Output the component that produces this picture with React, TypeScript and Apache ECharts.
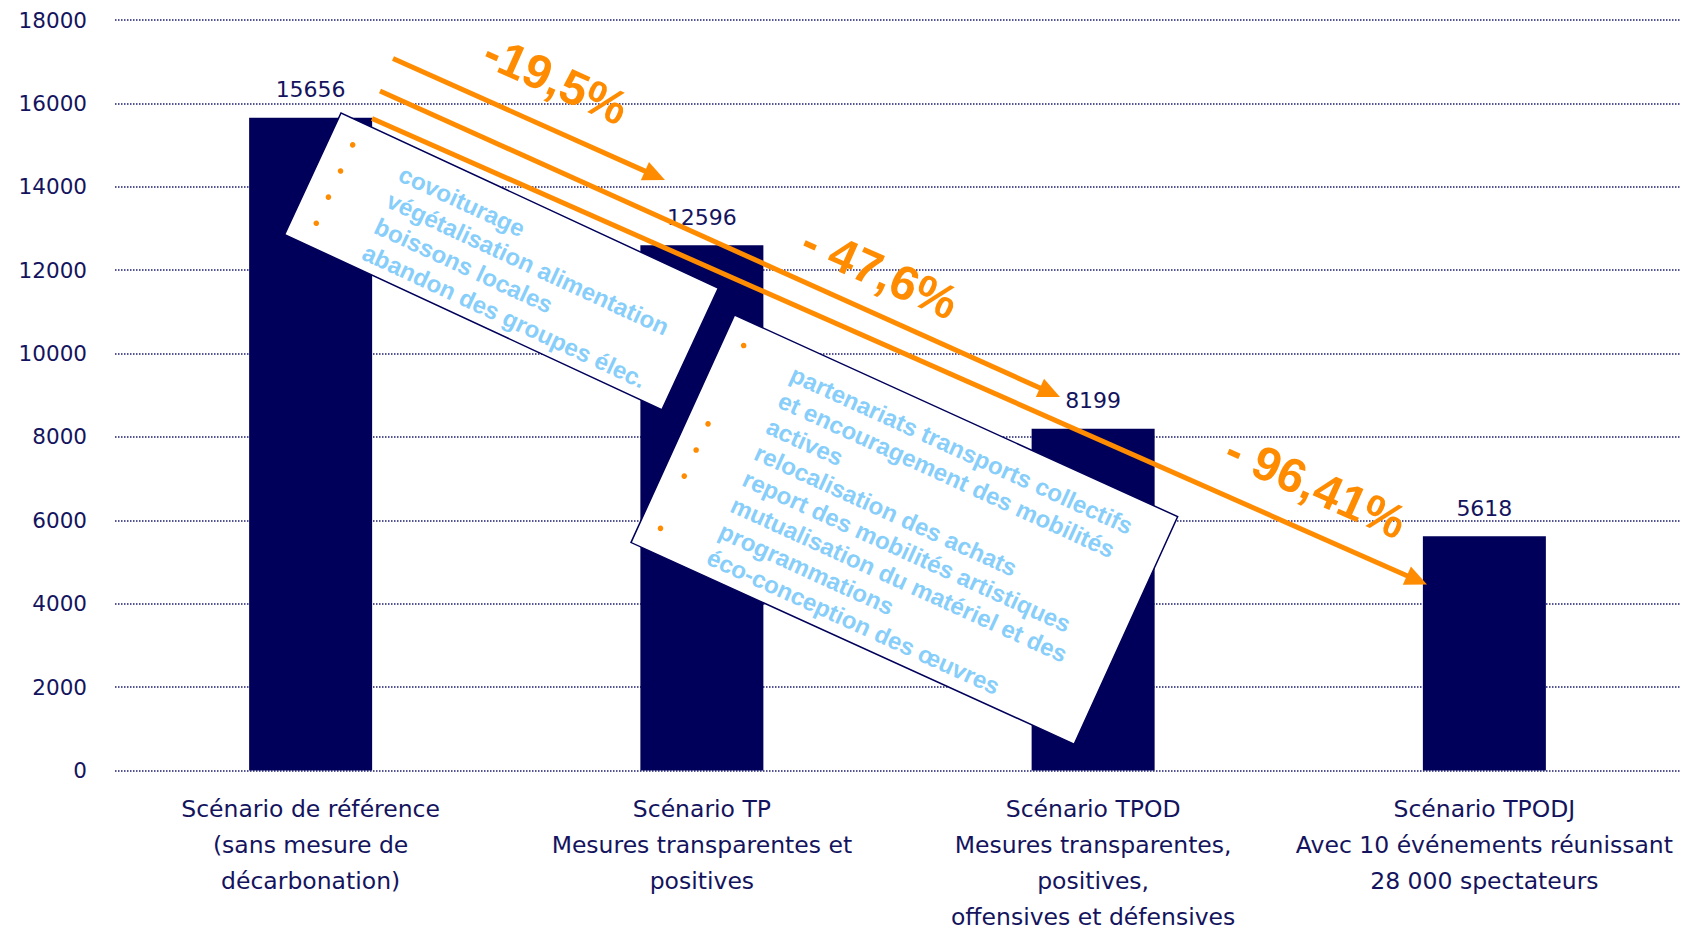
import React, { useEffect, useRef } from "react";
import * as echarts from "echarts";

const categories = [
  "Scénario de référence\n(sans mesure de\ndécarbonation)",
  "Scénario TP\nMesures transparentes et\npositives",
  "Scénario TPOD\nMesures transparentes,\npositives,\noffensives et défensives",
  "Scénario TPODJ\nAvec 10 événements réunissant\n28 000 spectateurs",
];
const values = [15656, 12596, 8199, 5618];
const yMin = 0;
const yMax = 18000;
const yInterval = 2000;
const reductionLabels = ["-19,5%", "- 47,6%", "- 96,41%"];
const box1Lines = [
  "covoiturage",
  "végétalisation alimentation",
  "boissons locales",
  "abandon des groupes élec.",
];
const box1Bullets = [0, 1, 2, 3];
const box2Lines = [
  "partenariats transports collectifs",
  "et encouragement des mobilités",
  "actives",
  "relocalisation des achats",
  "report des mobilités artistiques",
  "mutualisation du matériel et des",
  "programmations",
  "éco-conception des œuvres",
];
const box2Bullets = [0, 3, 4, 5, 7];

const NAVY = "#00005a";
const TEXT = "#14145e";
const ORANGE = "#ff8c00";
const BLUE = "#87cefa";
const FONT = "'DejaVu Sans', 'Noto Sans', sans-serif";

function arrow(x1: number, y1: number, x2: number, y2: number) {
  const dx = x2 - x1;
  const dy = y2 - y1;
  const len = Math.hypot(dx, dy);
  const ux = dx / len;
  const uy = dy / len;
  const hl = 22;
  const hw = 10;
  const bx = x2 - ux * hl;
  const by = y2 - uy * hl;
  return [
    {
      type: "line",
      z: 100,
      shape: { x1, y1, x2: bx + ux * 2, y2: by + uy * 2 },
      style: { stroke: ORANGE, lineWidth: 5 },
    },
    {
      type: "polygon",
      z: 100,
      shape: {
        points: [
          [x2, y2],
          [bx - uy * hw, by + ux * hw],
          [bx + uy * hw, by - ux * hw],
        ],
      },
      style: { fill: ORANGE },
    },
  ];
}

function box(
  x: number,
  y: number,
  w: number,
  h: number,
  angleDeg: number,
  lines: string[],
  bullets: number[],
  textX: number,
  bulletX: number,
  lineY0: number,
  lineH: number
) {
  const children: any[] = [
    {
      type: "rect",
      z: 50,
      shape: { x: 0, y: 0, width: w, height: h },
      style: { fill: "#ffffff", stroke: NAVY, lineWidth: 1.5 },
    },
  ];
  lines.forEach((t, i) => {
    children.push({
      type: "text",
      z: 51,
      x: textX,
      y: lineY0 + i * lineH,
      style: {
        text: t,
        fill: BLUE,
        font: "bold 24px 'Liberation Sans', Arial, sans-serif",
        align: "left",
        verticalAlign: "middle",
        textAlign: "left",
        textVerticalAlign: "middle",
      },
    });
  });
  bullets.forEach((i) => {
    children.push({
      type: "circle",
      z: 51,
      shape: { cx: bulletX, cy: lineY0 + i * lineH - 5, r: 2.8 },
      style: { fill: ORANGE },
    });
  });
  return {
    type: "group",
    z: 50,
    x,
    y,
    rotation: (-angleDeg * Math.PI) / 180,
    children,
  };
}

function pctLabel(text: string, x: number, y: number, angleDeg: number) {
  return {
    type: "text",
    z: 110,
    x,
    y,
    rotation: (-angleDeg * Math.PI) / 180,
    style: {
      text,
      fill: ORANGE,
      font: "bold 48px 'Liberation Sans', Arial, sans-serif",
      align: "center",
      verticalAlign: "middle",
      textAlign: "center",
      textVerticalAlign: "middle",
    },
  };
}

export default function App() {
  const ref = useRef<HTMLDivElement>(null);
  useEffect(() => {
    if (!ref.current) return;
    const chart = echarts.init(ref.current, undefined, { renderer: "svg" });
    const graphic: any[] = [
      box(341, 113, 416, 134, 24.9, box1Lines, box1Bullets, 79, 24, 29, 28.8),
      box(734.5, 315, 487, 250, 24.45, box2Lines, box2Bullets, 76, 21, 29, 28.7),
      ...arrow(393, 58.5, 665, 180),
      ...arrow(380, 91, 1060, 397),
      ...arrow(372, 118.5, 1427, 584.5),
      pctLabel(reductionLabels[0], 556, 80, 24),
      pctLabel(reductionLabels[1], 880, 272, 24),
      pctLabel(reductionLabels[2], 1316, 486, 24),
    ];
    chart.setOption({
      animation: false,
      textStyle: { fontFamily: FONT },
      grid: {
        left: 115,
        right: 11,
        top: 20,
        bottom: 158.5,
        containLabel: false,
        outerBoundsMode: "none",
      },
      xAxis: {
        type: "category",
        data: categories,
        axisLine: { show: false },
        axisTick: { show: false },
        axisLabel: {
          color: TEXT,
          fontSize: 23.5,
          lineHeight: 36,
          margin: 20,
          fontFamily: FONT,
          interval: 0,
        },
      },
      yAxis: {
        type: "value",
        min: yMin,
        max: yMax,
        interval: yInterval,
        axisLine: { show: false },
        axisTick: { show: false },
        axisLabel: {
          color: TEXT,
          fontSize: 21.5,
          margin: 28,
          fontFamily: FONT,
          formatter: (v: number) => String(v),
        },
        splitLine: {
          show: true,
          lineStyle: { color: "#1c1c70", width: 1.5, type: [1.5, 1.5] },
        },
      },
      series: [
        {
          type: "bar",
          data: values,
          barWidth: 123,
          itemStyle: { color: NAVY },
          label: {
            show: true,
            position: "top",
            distance: 17,
            color: TEXT,
            fontSize: 22,
            fontFamily: FONT,
          },
        },
      ],
      graphic,
    });
    return () => chart.dispose();
  }, []);
  return (
    <div
      ref={ref}
      style={{ position: "absolute", left: 0, top: 0, width: 1691, height: 929, background: "#fff" }}
    />
  );
}
